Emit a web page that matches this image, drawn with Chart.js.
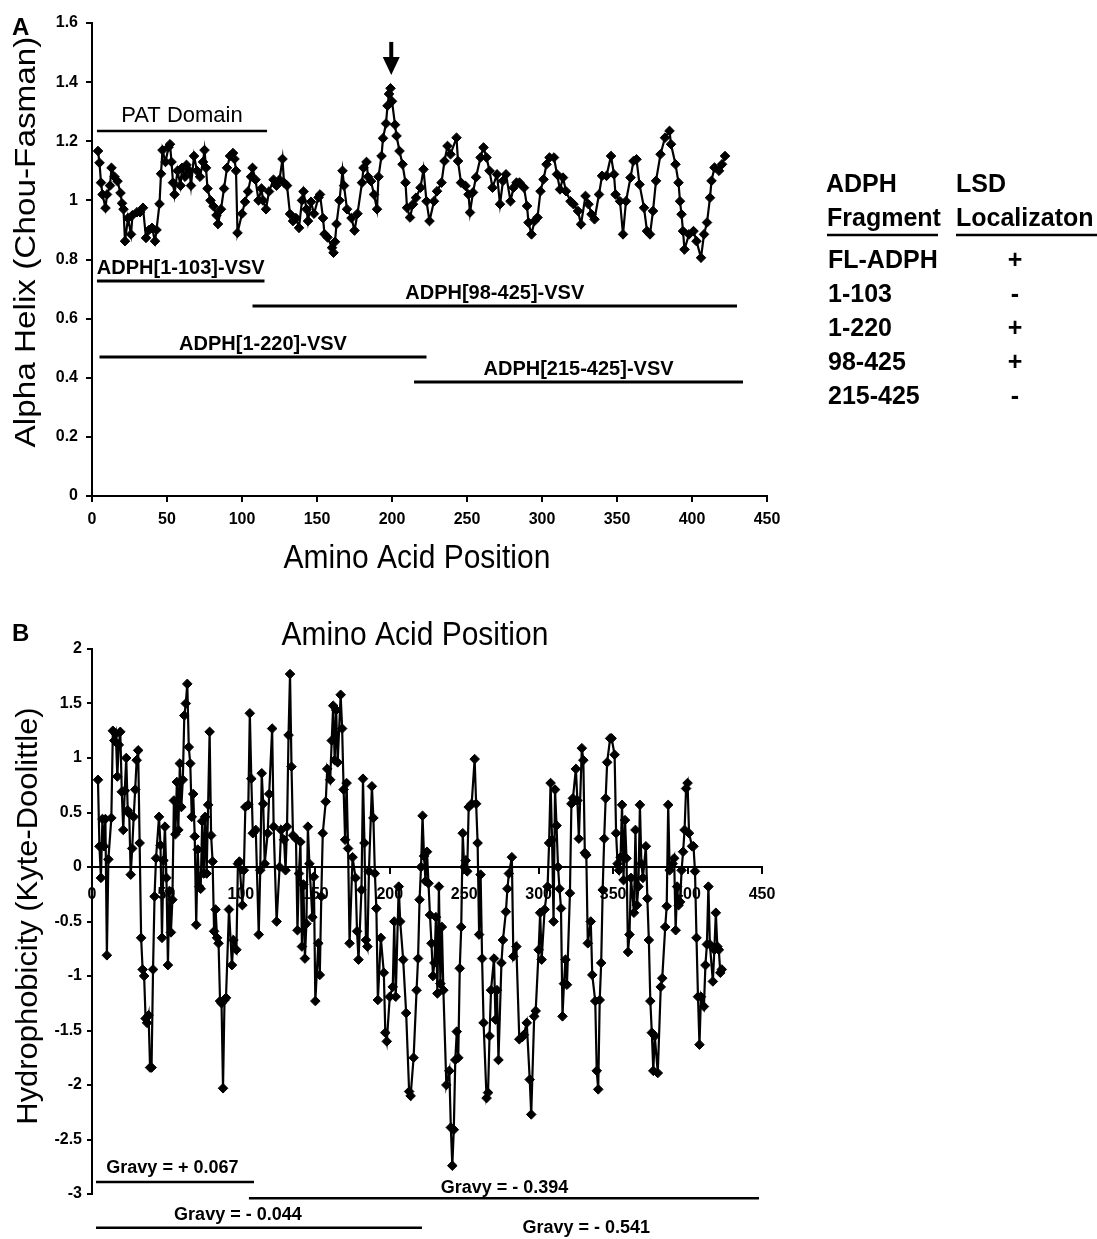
<!DOCTYPE html>
<html>
<head>
<meta charset="utf-8">
<title>ADPH alpha helix and hydrophobicity</title>
<script src="https://cdn.jsdelivr.net/npm/chart.js"></script>
<style>
  body { margin: 0; background: #fff; }
  #page { position: relative; width: 1097px; height: 1239px; overflow: hidden; background: #fff; }
  #panelA { position: absolute; left: 0; top: 0; }
  #panelB { position: absolute; left: 0; top: 600px; }
  #side { position: absolute; left: 0; top: 0; }
</style>
</head>
<body>
<div id="page">
  <canvas id="panelA" width="790" height="590"></canvas>
  <canvas id="panelB" width="790" height="639"></canvas>
  <svg id="side" width="1097" height="1239" xmlns="http://www.w3.org/2000/svg"></svg>
</div>
<script>
const FONT = '"Liberation Sans", Arial, sans-serif';
Chart.defaults.font.family = FONT;
Chart.defaults.color = '#000';

// ---- panel A: alpha helix (Chou-Fasman) ----
const posA = [
  4,5,6,7,9,10,12,13,15,17,
  19,20,21,22,24,26,27,30,32,34,
  36,38,40,42,43,45,46,47,49,51,
  52,53,54,55,57,59,60,62,63,65,
  66,68,70,72,74,75,76,77,79,81,
  83,84,86,88,90,92,94,95,96,97,
  100,102,104,106,107,109,111,113,114,116,
  118,121,123,125,127,128,130,132,134,136,
  138,140,141,143,144,146,148,151,152,154,
  155,157,160,161,162,163,165,167,168,170,
  173,175,177,180,181,183,184,186,188,190,
  191,193,194,196,197,198,199,200,202,203,
  205,207,209,210,212,214,216,219,221,223,
  225,228,230,233,235,237,239,243,244,246,
  249,251,252,254,256,259,261,263,265,267,
  270,272,274,276,279,281,283,285,288,290,
  291,293,295,297,299,301,303,305,308,310,
  312,314,316,319,321,324,326,329,331,333,
  335,338,340,343,346,348,349,352,354,356,
  359,361,363,365,368,370,372,374,376,379,
  382,385,386,389,391,392,393,394,395,398,
  401,403,406,408,410,412,413,415,418,420,
  422
];
const helixA = [
  1.167,1.127,1.06,1.02,0.974,1.02,1.05,1.11,1.08,1.065,
  1.025,0.99,0.97,0.862,0.94,0.885,0.95,0.96,0.96,0.975,
  0.873,0.90,0.907,0.862,0.90,0.988,1.09,1.17,1.13,1.18,
  1.19,1.13,1.06,1.02,1.10,1.05,1.11,1.08,1.12,1.10,
  1.05,1.15,1.10,1.08,1.13,1.17,1.11,1.04,1.00,0.98,
  0.95,0.92,0.97,1.04,1.11,1.15,1.16,1.14,1.10,0.89,
  0.955,0.995,1.03,1.08,1.11,1.07,1.00,1.04,1.00,0.97,
  1.03,1.07,1.05,1.07,1.14,1.06,1.05,0.954,0.93,0.94,
  0.907,1.00,1.03,0.97,0.93,0.995,0.955,1.01,1.02,0.94,
  0.886,0.875,0.84,0.823,0.86,0.92,1.00,1.10,1.05,0.97,
  0.94,0.898,0.955,1.06,1.11,1.13,1.08,1.065,1.02,0.97,
  1.08,1.15,1.21,1.26,1.32,1.36,1.379,1.335,1.256,1.218,
  1.167,1.122,1.06,0.975,0.942,0.987,1.009,1.043,1.105,0.997,
  0.93,0.997,1.031,1.06,1.133,1.184,1.156,1.212,1.133,1.06,
  1.049,1.02,0.959,1.027,1.078,1.145,1.179,1.145,1.10,1.043,
  1.088,0.987,1.066,1.088,0.997,1.043,1.06,1.06,1.043,0.981,
  0.925,0.885,0.93,0.942,1.031,1.071,1.122,1.145,1.145,1.088,
  1.037,1.077,1.031,0.997,0.987,0.964,0.919,1.015,0.987,0.953,
  0.936,1.02,1.083,1.083,1.15,1.088,1.02,0.997,0.885,0.997,
  1.077,1.133,1.139,1.054,0.975,0.896,0.885,0.964,1.066,1.156,
  1.212,1.235,1.19,1.122,1.06,0.997,0.953,0.896,0.834,0.885,
  0.896,0.862,0.806,0.885,0.925,1.009,1.066,1.111,1.10,1.122,
  1.15
];
const xTicks = [0,50,100,150,200,250,300,350,400,450];
const yTicksA = [0,0.2,0.4,0.6,0.8,1,1.2,1.4,1.6];

// constructs drawn under the helix trace
const fragNames = ['ADPH[1-103]-VSV', 'ADPH[98-425]-VSV', 'ADPH[1-220]-VSV', 'ADPH[215-425]-VSV'];
const fragFrom = [3.3, 107, 5, 214.7];
const fragTo = [115, 430, 223, 434];
const fragLevel = [0.727, 0.643, 0.470, 0.386];
const patFrom = 3.3, patTo = 116.7, patLevel = 1.235;
const arrowAt = 199.5, arrowTop = 1.536, arrowTip = 1.424;

// ---- panel B: hydrophobicity (Kyte-Doolittle) ----
const posB = [
  4,5,6,7,8,9,10,11,13,14,
  15,16,17,18,19,20,21,22,23,24,
  25,26,27,28,29,30,31,32,33,34,
  35,36,37,38,39,40,41,42,43,45,
  46,47,48,49,50,51,52,53,54,55,
  56,57,58,59,60,61,62,63,64,65,
  66,67,68,69,70,71,72,73,74,75,
  76,77,78,79,80,81,82,83,84,85,
  86,87,88,89,90,92,94,95,97,98,
  99,101,102,103,105,106,107,108,110,112,
  113,114,115,116,118,119,121,122,124,126,
  127,129,130,131,132,133,134,135,137,138,
  139,140,141,142,143,144,145,146,148,149,
  150,152,153,154,155,157,158,160,161,162,
  163,164,165,167,168,169,170,171,172,173,
  175,177,178,179,181,182,183,184,185,186,
  188,189,190,191,192,194,196,197,198,200,
  202,203,204,206,207,209,211,213,214,216,
  218,219,220,221,222,223,224,225,226,227,
  228,229,230,231,232,233,234,235,236,238,
  240,241,242,243,244,245,246,247,248,249,
  250,251,252,253,255,257,258,259,260,261,
  262,263,265,266,267,268,270,271,272,273,
  275,276,278,279,280,282,283,285,287,289,
  290,292,294,295,297,298,300,301,302,304,
  306,307,308,309,310,311,312,313,314,315,
  316,317,318,319,321,322,323,325,326,327,
  329,330,331,332,333,335,336,338,339,340,
  341,342,343,344,345,346,348,349,351,352,
  353,354,355,356,357,358,359,360,361,362,
  364,365,366,367,368,369,370,372,373,374,
  375,376,377,378,380,382,383,385,386,387,
  388,390,391,392,393,394,395,396,397,398,
  399,400,401,403,404,405,406,407,408,409,
  411,412,413,414,415,417,418,419,420,421,
  422,423
];
const hydroB = [
  0.80,0.19,-0.10,0.44,0.19,0.44,-0.81,0.07,0.45,1.25,
  1.16,1.22,0.83,1.12,1.24,0.69,0.34,0.70,1.00,0.52,
  0.49,-0.07,0.17,0.46,0.71,0.98,1.07,0.22,-0.65,-0.94,
  -1.00,-1.39,-1.43,-1.36,-1.84,-1.84,-0.94,-0.27,0.08,0.46,
  0.20,-0.65,0.06,0.37,-0.10,-0.90,-0.22,-0.60,-0.30,0.61,
  0.30,0.78,0.34,0.95,0.55,0.80,1.39,1.50,1.68,1.10,
  0.95,0.46,0.67,0.28,-0.53,0.16,-0.18,-0.20,0.42,-0.06,
  0.46,-0.06,0.57,1.24,0.29,0.05,-0.59,-0.39,-0.65,-0.70,
  -1.23,-1.25,-2.03,-1.22,-1.20,-0.39,-0.90,-0.67,-0.76,0.03,
  0.05,-0.35,-0.03,0.55,0.57,1.41,0.81,0.31,0.34,-0.62,
  -0.03,0.86,0.58,0.03,0.31,0.67,1.27,0.37,-0.50,0.00,
  0.34,0.25,-0.03,0.37,1.21,1.77,0.92,0.29,0.26,-0.58,
  -0.06,0.23,-0.73,-0.16,-0.84,-0.52,0.37,0.03,-0.46,-0.09,
  -1.23,-0.70,-0.99,-0.27,0.31,0.60,0.90,0.80,1.16,1.48,
  0.98,1.44,0.96,1.58,1.27,0.71,0.25,0.77,0.17,-0.70,
  0.09,-0.10,-0.59,-0.85,-0.21,0.81,0.22,-0.67,-0.73,-0.04,
  0.74,0.45,-0.06,-0.38,-1.22,-0.65,-0.97,-1.52,-1.60,-1.19,
  -1.10,-0.50,-1.19,-0.18,-0.50,-0.85,-1.34,-2.06,-2.10,-1.75,
  -1.13,-0.84,-0.30,0.00,0.47,0.10,-0.13,0.14,-0.15,-0.44,
  -0.70,-1.00,-0.88,-0.46,-1.16,-0.18,-1.07,-0.55,-1.13,-2.00,
  -1.87,-2.39,-2.74,-2.41,-1.77,-1.51,-1.75,-0.93,-0.55,0.31,
  0.00,0.06,-0.04,0.55,0.58,0.99,0.58,0.22,-0.62,-0.07,
  -0.84,-1.43,-2.12,-2.07,-1.55,-1.13,-0.84,-1.40,-1.13,-1.77,
  -0.88,-0.67,-0.41,-0.20,-0.06,0.09,-0.82,-0.73,-1.58,-1.56,
  -1.54,-1.43,-1.95,-2.27,-1.37,-1.32,-0.76,-0.42,-0.85,-0.39,
  -0.18,0.22,0.77,0.25,-0.50,0.71,0.38,0.00,-0.20,-0.38,
  -1.37,-1.07,-0.85,-1.08,-0.24,0.58,0.63,0.90,0.61,0.26,
  1.09,0.98,0.13,0.11,-0.70,-0.50,-0.99,-1.23,-1.87,-2.04,
  -1.22,-0.88,-0.21,0.26,0.63,0.96,1.18,1.18,1.03,0.31,
  0.03,-0.03,0.09,0.57,-0.12,0.43,0.08,-0.78,-0.62,-0.10,
  -0.42,0.34,-0.35,-0.18,0.57,0.03,-0.10,0.19,-0.29,-0.67,
  -1.23,-1.52,-1.87,-1.55,-1.89,-1.10,-1.02,-0.55,-0.36,0.57,
  -0.03,0.03,0.08,-0.58,-0.18,-0.35,-0.32,-0.03,0.14,0.34,
  0.72,0.77,0.31,0.19,0.19,-0.04,-0.65,-1.19,-1.63,-1.19,
  -1.28,-0.90,-0.71,-0.18,-0.71,-1.05,-0.76,-0.42,-0.73,-0.76,
  -0.97,-0.94
];
const yTicksB = [-3,-2.5,-2,-1.5,-1,-0.5,0,0.5,1,1.5,2];

const gravyText = ['Gravy = + 0.067', 'Gravy = - 0.394', 'Gravy = - 0.044', 'Gravy = - 0.541'];
const gravyFrom = [2.7, 105.4, 2.7, null];
const gravyTo = [108.8, 448, 221.6, null];
const gravyLineLevel = [-2.89, -3.04, -3.31, null];
const gravyTextAt = [54, 277, 98, 332];
const gravyTextLevel = [-2.81, -2.99, -3.24, -3.36];

// ---- side table ----
const tableFragments = ['FL-ADPH', '1-103', '1-220', '98-425', '215-425'];
const tableLsd = ['+', '-', '+', '+', '-'];

function text(ctx, s, x, y, font, o = {}) {
  ctx.save();
  ctx.translate(x, y);
  if (o.rotate) ctx.rotate(o.rotate);
  ctx.scale(o.sx || 1, o.sy || 1);
  ctx.font = font;
  ctx.fillStyle = '#000';
  ctx.textAlign = o.align || 'center';
  ctx.textBaseline = o.baseline || 'alphabetic';
  ctx.fillText(s, 0, 0);
  ctx.restore();
}

function hline(ctx, x1, x2, y, w) {
  ctx.save();
  ctx.strokeStyle = '#000';
  ctx.lineWidth = w;
  ctx.beginPath();
  ctx.moveTo(x1, y);
  ctx.lineTo(x2, y);
  ctx.stroke();
  ctx.restore();
}

function axis(min, max, ticks, o) {
  return {
    type: 'linear',
    min: min,
    max: max,
    position: o.position,
    afterBuildTicks: s => { s.ticks = ticks.map(v => ({ value: v })); },
    afterFit: o.fit,
    ticks: {
      callback: v => String(v),
      color: '#000',
      font: { size: 16, weight: 'bold' },
      padding: o.pad,
      autoSkip: false,
      maxRotation: 0
    },
    grid: { drawOnChartArea: false, drawTicks: true, tickLength: o.tick, color: '#000', lineWidth: 2 },
    border: { display: true, color: '#000', width: 2 }
  };
}

function series(xs, ys) {
  return {
    data: xs.map((x, i) => ({ x: x, y: ys[i] })),
    borderColor: '#000',
    backgroundColor: '#000',
    borderWidth: 2.2,
    tension: 0,
    pointStyle: 'rectRot',
    pointRadius: 4.8,
    pointBackgroundColor: '#000',
    pointBorderColor: '#000',
    pointBorderWidth: 1
  };
}

const annotA = {
  id: 'annotA',
  afterDraw(chart) {
    const { ctx, scales: { x, y } } = chart;

    // PAT domain bar
    const py = y.getPixelForValue(patLevel);
    hline(ctx, x.getPixelForValue(patFrom), x.getPixelForValue(patTo), py, 2.5);
    text(ctx, 'PAT Domain', (x.getPixelForValue(patFrom) + x.getPixelForValue(patTo)) / 2, py - 9, '22px ' + FONT);

    // construct bars
    fragNames.forEach((name, i) => {
      const x1 = x.getPixelForValue(fragFrom[i]);
      const x2 = x.getPixelForValue(fragTo[i]);
      const ly = y.getPixelForValue(fragLevel[i]);
      hline(ctx, x1, x2, ly, 3);
      text(ctx, name, (x1 + x2) / 2, ly - 7, 'bold 20px ' + FONT);
    });

    // arrow over the helix peak
    const ax = x.getPixelForValue(arrowAt);
    const yt = y.getPixelForValue(arrowTop);
    const yp = y.getPixelForValue(arrowTip);
    ctx.save();
    ctx.fillStyle = '#000';
    ctx.fillRect(ax - 2, yt, 4, yp - yt - 14);
    ctx.beginPath();
    ctx.moveTo(ax - 8.5, yp - 18);
    ctx.lineTo(ax + 8.5, yp - 18);
    ctx.lineTo(ax, yp);
    ctx.closePath();
    ctx.fill();
    ctx.restore();

    // axis titles
    text(ctx, 'Amino Acid Position', 417, 568, '30px ' + FONT, { sy: 1.08 });
    text(ctx, 'Alpha Helix (Chou-Fasman)', 27, 242, '30px ' + FONT,
      { rotate: -Math.PI / 2, sx: 1.11, baseline: 'middle' });
  }
};

const annotB = {
  id: 'annotB',
  afterDraw(chart) {
    const { ctx, scales: { x, y } } = chart;
    gravyText.forEach((s, i) => {
      if (gravyFrom[i] !== null) {
        hline(ctx, x.getPixelForValue(gravyFrom[i]), x.getPixelForValue(gravyTo[i]),
          y.getPixelForValue(gravyLineLevel[i]), 2.5);
      }
      text(ctx, s, x.getPixelForValue(gravyTextAt[i]), y.getPixelForValue(gravyTextLevel[i]), 'bold 18px ' + FONT);
    });
    text(ctx, 'Amino Acid Position', 415, 45, '30px ' + FONT, { sy: 1.08 });
    text(ctx, 'Hydrophobicity (Kyte-Doolittle)', 29, 316, '30px ' + FONT,
      { rotate: -Math.PI / 2, sx: 1.03, baseline: 'middle' });
  }
};

const common = {
  responsive: false,
  devicePixelRatio: 1,
  animation: false,
  plugins: { legend: { display: false }, tooltip: { enabled: false } }
};

new Chart(document.getElementById('panelA'), {
  type: 'line',
  data: { datasets: [series(posA, helixA)] },
  options: Object.assign({}, common, {
    layout: { padding: { left: 0, top: 23, right: 23, bottom: 0 } },
    scales: {
      x: axis(0, 450, xTicks, { position: 'bottom', tick: 6, pad: 8, fit: s => { s.height = 94; } }),
      y: axis(0, 1.6, yTicksA, { position: 'left', tick: 6, pad: 8, fit: s => { s.width = 92; } })
    }
  }),
  plugins: [annotA]
});

new Chart(document.getElementById('panelB'), {
  type: 'line',
  data: { datasets: [series(posB, hydroB)] },
  options: Object.assign({}, common, {
    layout: { padding: { left: 0, top: 49, right: 28, bottom: 45 } },
    scales: {
      x: axis(0, 450, xTicks, { position: { y: 0 }, tick: 6, pad: 12 }),
      y: axis(-3, 2, yTicksB, { position: 'left', tick: 5, pad: 5, fit: s => { s.width = 92; } })
    }
  }),
  plugins: [annotB]
});

// panel letters and the localization table
const svg = document.getElementById('side');
const NS = 'http://www.w3.org/2000/svg';
function svgText(s, x, y, size, anchor) {
  const t = document.createElementNS(NS, 'text');
  t.setAttribute('x', x);
  t.setAttribute('y', y);
  t.setAttribute('font-family', 'Liberation Sans, Arial, sans-serif');
  t.setAttribute('font-weight', 'bold');
  t.setAttribute('font-size', size);
  t.setAttribute('text-anchor', anchor || 'start');
  t.textContent = s;
  svg.appendChild(t);
}
function svgLine(x1, x2, y, w) {
  const l = document.createElementNS(NS, 'line');
  l.setAttribute('x1', x1); l.setAttribute('x2', x2);
  l.setAttribute('y1', y); l.setAttribute('y2', y);
  l.setAttribute('stroke', '#000');
  l.setAttribute('stroke-width', w);
  svg.appendChild(l);
}

svgText('A', 12, 35, 24);
svgText('B', 12, 641, 24);

svgText('ADPH', 826, 192, 25);
svgText('LSD', 956, 192, 25);
svgText('Fragment', 827, 226, 25);
svgText('Localizaton', 956, 226, 25);
svgLine(827, 938, 235, 2.5);
svgLine(956, 1097, 235, 2.5);
tableFragments.forEach((f, i) => {
  svgText(f, 828, 268 + 34 * i, 25);
  svgText(tableLsd[i], 1015, 268 + 34 * i, 25, 'middle');
});
</script>
</body>
</html>
